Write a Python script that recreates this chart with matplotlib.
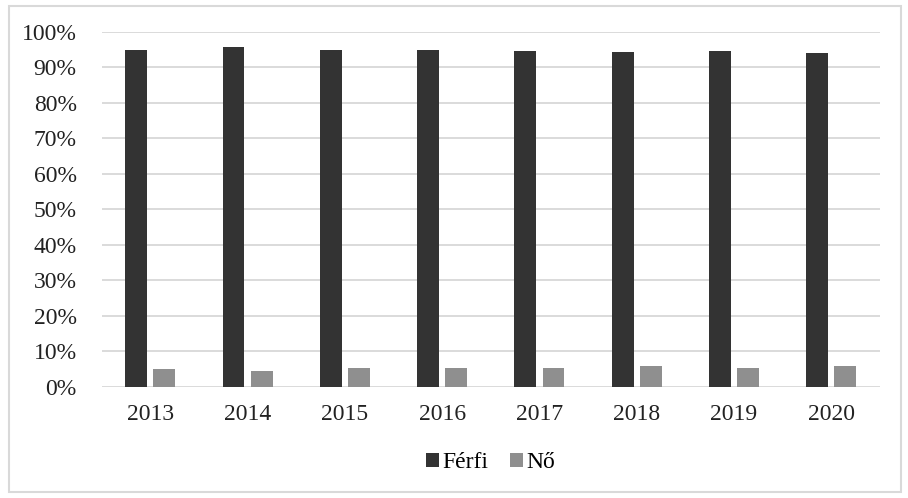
import numpy as np
import matplotlib.pyplot as plt
from matplotlib.ticker import PercentFormatter

years = ['2013', '2014', '2015', '2016', '2017', '2018', '2019', '2020']
ferfi = [95.0, 95.6, 94.8, 94.8, 94.6, 94.2, 94.6, 94.1]
no = [5.0, 4.4, 5.2, 5.2, 5.4, 5.8, 5.4, 5.9]

plt.rcParams['font.family'] = ['Liberation Serif', 'DejaVu Serif']

fig = plt.figure(figsize=(9.08, 4.98), dpi=100)
ax = fig.add_axes([0.112, 0.223, 0.857, 0.713])

x = np.arange(len(years))
w = 0.225
ax.bar(x - 0.145, ferfi, w, color='#333333', label='Férfi', zorder=3)
ax.bar(x + 0.145, no, w, color='#8f8f8f', label='Nő', zorder=3)

ax.set_xlim(-0.5, len(years) - 0.5)
ax.set_ylim(0, 100)
ax.set_yticks(np.arange(0, 101, 10))
ax.yaxis.set_major_formatter(PercentFormatter(decimals=0))
ax.set_xticks(x)
ax.set_xticklabels(years)
ax.tick_params(axis='both', length=0, labelsize=17, colors='#222222')
ax.tick_params(axis='x', pad=12)
ax.tick_params(axis='y', pad=18)
ax.grid(axis='y', color='#d4d4d4', linewidth=1.2, zorder=0)
for s in ax.spines.values():
    s.set_visible(False)

ax.legend(loc='center', bbox_to_anchor=(0.5, -0.214), ncol=2, frameon=False,
          fontsize=17, handlelength=0.55, handleheight=0.55, handletextpad=0.15,
          columnspacing=0.9, borderpad=0)

# outer frame
fig.patches.append(plt.Rectangle((0.01, 0.012), 0.982, 0.975, transform=fig.transFigure,
                                 fill=False, edgecolor='#d9d9d9', linewidth=1.5))

fig.savefig('out.png', dpi=100)
